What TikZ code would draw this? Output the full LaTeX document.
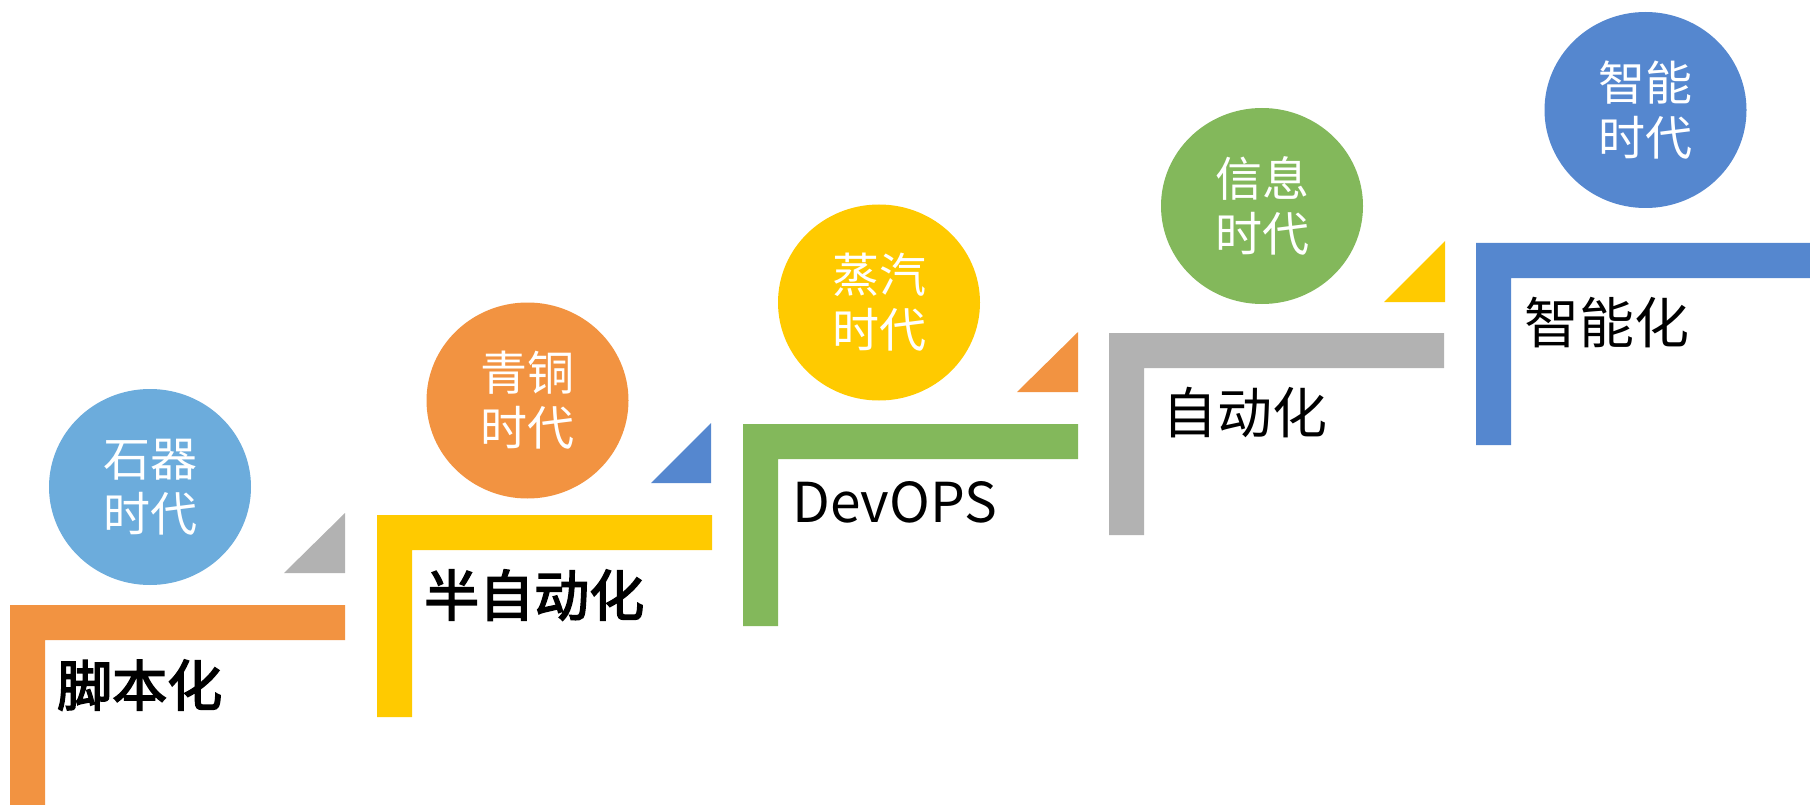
\documentclass[tikz,border=0pt]{standalone}
\usepackage{fontspec}
\newfontfamily\cjk{Noto Sans CJK SC}
\newfontfamily\cjkmed[FakeBold=3]{Noto Sans CJK SC}
\usetikzlibrary{shapes.geometric}
\definecolor{cLblue}{HTML}{6CACDC}
\definecolor{cOrange}{HTML}{F29341}
\definecolor{cYellow}{HTML}{FFCA00}
\definecolor{cGreen}{HTML}{83B85B}
\definecolor{cGray}{HTML}{B2B2B2}
\definecolor{cBlue}{HTML}{5587CF}
\tikzset{
  era/.style={ellipse, minimum width=202pt, minimum height=196pt, inner sep=0pt,
    text=white, align=center, font=\cjk\fontsize{47}{55}\selectfont},
  steplabel/.style={anchor=base west, inner sep=0pt, text=black, font=\cjk\fontsize{55}{60}\selectfont},
  steplabelb/.style={steplabel, font=\cjkmed\fontsize{55}{60}\selectfont},
}
\newcommand{\stepL}[3]{\fill[#3] (#1,#2) -- ++(335,0) -- ++(0,35) -- ++(-300,0) -- ++(0,167) -- ++(-35,0) -- cycle;}
\begin{document}
\begin{tikzpicture}[x=1pt,y=-1pt]
\useasboundingbox (0,0) rectangle (1810,805);
% L-shaped steps
\stepL{10}{605}{cOrange}
\stepL{377}{515}{cYellow}
\stepL{743}{424}{cGreen}
\stepL{1109}{333}{cGray}
\stepL{1476}{243}{cBlue}
% triangles
\fill[cGray] (284,573) -- (345,573) -- (345,513) -- cycle;
\fill[cBlue] (651,483) -- (711,483) -- (711,423) -- cycle;
\fill[cOrange] (1017,392) -- (1078,392) -- (1078,332) -- cycle;
\fill[cYellow] (1384,302) -- (1445,302) -- (1445,241) -- cycle;
% era circles
\node[era, fill=cLblue] (e1) at (150,487) {石器\\时代};
\node[era, fill=cOrange] (e2) at (527.5,400.5) {青铜\\时代};
\node[era, fill=cYellow] (e3) at (879,302.5) {蒸汽\\时代};
\node[era, fill=cGreen] (e4) at (1262,206) {信息\\时代};
\node[era, fill=cBlue] (e5) at (1645.5,110) {智能\\时代};
% step labels
\node[steplabelb] (s1) at (57,706) {脚本化};
\node[steplabelb] (s2) at (424,616) {半自动化};
\node[steplabel] (s3) at (792,522) {DevOPS};
\node[steplabel] (s4) at (1162,433.5) {自动化};
\node[steplabel] (s5) at (1524,343) {智能化};
\end{tikzpicture}
\end{document}
